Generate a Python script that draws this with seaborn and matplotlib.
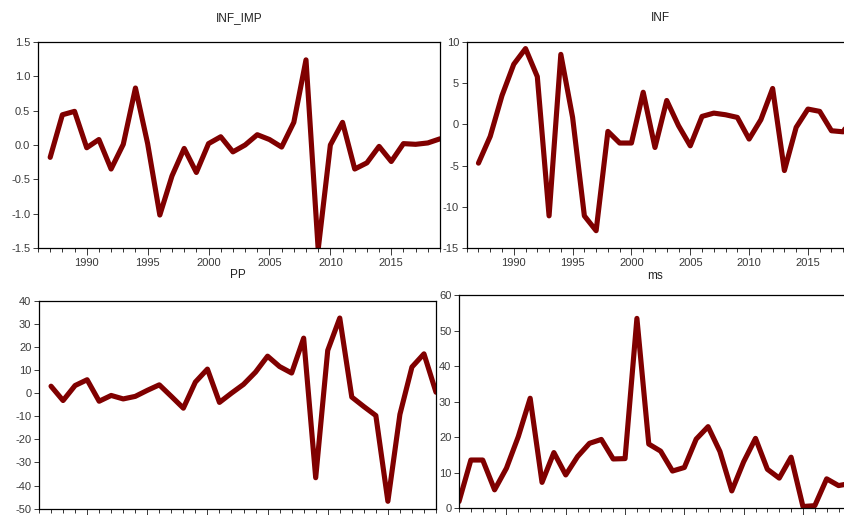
import matplotlib
matplotlib.use("Agg")
import matplotlib.pyplot as plt
import seaborn as sns
import pandas as pd
from matplotlib.ticker import MultipleLocator, FormatStrFormatter

# data
years = list(range(1987, 2020))
years_ms = list(range(1986, 2020))

inf_imp = [-0.18, 0.44, 0.49, -0.04, 0.08, -0.35, 0.01, 0.83, 0.02, -1.02,
           -0.45, -0.05, -0.40, 0.02, 0.12, -0.10, 0.00, 0.15, 0.08, -0.03,
           0.33, 1.24, -1.52, 0.00, 0.33, -0.35, -0.26, -0.02, -0.24, 0.02,
           0.01, 0.03, 0.09]

inf = [-4.7, -1.45, 3.5, 7.3, 9.2, 5.8, -11.1, 8.5, 0.85, -11.1,
       -12.9, -0.85, -2.26, -2.26, 3.9, -2.8, 2.9, -0.15, -2.6, 0.97,
       1.37, 1.17, 0.85, -1.78, 0.57, 4.36, -5.6, -0.36, 1.86, 1.58,
       -0.77, -0.9, 1.5]

pp = [3.0, -3.2, 3.3, 5.8, -3.5, -1.0, -2.5, -1.4, 1.2, 3.6,
      -1.4, -6.5, 4.8, 10.4, -4.0, 0.0, 3.8, 9.1, 16.0, 11.5,
      8.7, 23.8, -36.6, 18.5, 32.5, -1.7, -5.8, -9.7, -46.8, -9.2,
      11.3, 17.0, 0.4]

ms = [1.9, 13.6, 13.6, 5.2, 11.3, 20.2, 31.0, 7.3, 15.7, 9.4,
      14.6, 18.3, 19.4, 13.9, 14.0, 53.5, 18.1, 16.1, 10.5, 11.5,
      19.5, 23.0, 16.0, 4.9, 13.1, 19.7, 11.0, 8.5, 14.4, 0.5,
      0.75, 8.3, 6.4, 7.0]

sns.set_style("ticks")
plt.rcParams['font.family'] = ['Liberation Sans', 'DejaVu Sans']

fig = plt.figure(figsize=(8.45, 5.15), dpi=100)
W, H = 845, 515


def box(x0, x1, ytop, ybot):
    return [x0 / W, (H - ybot) / H, (x1 - x0) / W, (ybot - ytop) / H]


panels = [
    ("INF_IMP", years, inf_imp, box(38, 440, 42, 248), (-1.5, 1.5), 0.5, "%.1f", True, 15),
    ("INF", years, inf, box(466.7, 855, 42, 248), (-15, 10), 5, "%d", True, 15),
    ("PP", years, pp, box(39, 436, 300.7, 508.7), (-50, 40), 10, "%d", False, 16),
    ("ms", years_ms, ms, box(459, 850.4, 295.3, 508.3), (0, 60), 10, "%d", False, 12),
]

for title, xs, ys, pos, ylim, step, fmt, show_x, tpad in panels:
    ax = fig.add_axes(pos)
    df = pd.DataFrame({"year": xs, "value": ys})
    sns.lineplot(data=df, x="year", y="value", ax=ax, color="#800000",
                 linewidth=3.7, solid_joinstyle="round")
    ax.set_xlim(1986, 2019)
    ax.set_ylim(*ylim)
    ax.yaxis.set_major_locator(MultipleLocator(step))
    ax.yaxis.set_major_formatter(FormatStrFormatter(fmt))
    ax.xaxis.set_major_locator(MultipleLocator(5))
    ax.xaxis.set_minor_locator(MultipleLocator(1))
    ax.set_xlabel("")
    ax.set_ylabel("")
    for sp in ax.spines.values():
        sp.set_visible(True)
        sp.set_linewidth(0.9)
        sp.set_color("black")
    ax.tick_params(axis="both", which="major", labelsize=8, colors="#3a3a3a",
                   length=3.5, width=0.7, pad=2)
    ax.tick_params(axis="x", which="major", length=5)
    ax.tick_params(axis="x", which="minor", length=3, width=0.7, color="#333333")
    if not show_x:
        ax.tick_params(axis="x", labelbottom=False)
    ax.set_title(title, fontsize=8.5, color="#222222", pad=tpad)

fig.savefig("out.png", dpi=100)
